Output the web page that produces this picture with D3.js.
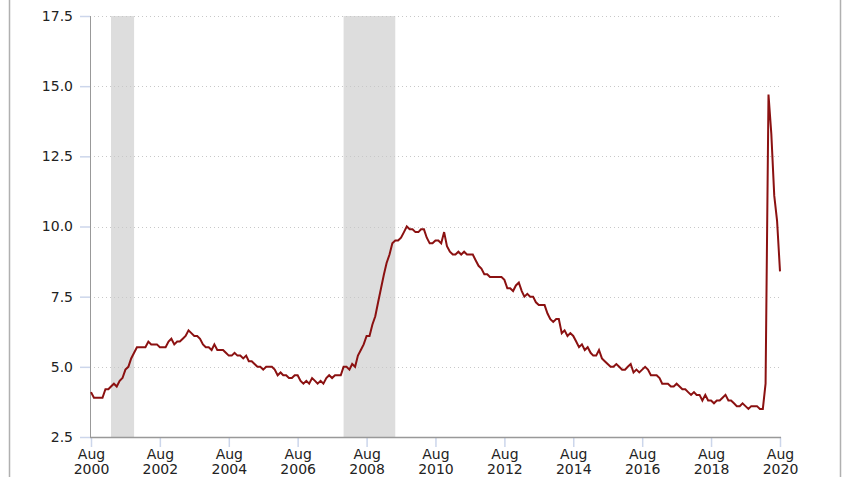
<!DOCTYPE html>
<html>
<head>
<meta charset="utf-8">
<script src="https://cdn.jsdelivr.net/npm/d3@7"></script>
<style>
html,body{margin:0;padding:0;background:#fff;}
svg{display:block;}
text{font-family:"DejaVu Sans",Verdana,sans-serif;}
</style>
</head>
<body>
<svg id="chart" width="850" height="477"></svg>
<script>
// Unemployment rate, monthly, Aug 2000 – Aug 2020
const startMonth = "2000-08";
const rates = [
  4.1,3.9,3.9,3.9,3.9,
  4.2,4.2,4.3,4.4,4.3,4.5,4.6,4.9,5.0,5.3,5.5,5.7,
  5.7,5.7,5.7,5.9,5.8,5.8,5.8,5.7,5.7,5.7,5.9,6.0,
  5.8,5.9,5.9,6.0,6.1,6.3,6.2,6.1,6.1,6.0,5.8,5.7,
  5.7,5.6,5.8,5.6,5.6,5.6,5.5,5.4,5.4,5.5,5.4,5.4,
  5.3,5.4,5.2,5.2,5.1,5.0,5.0,4.9,5.0,5.0,5.0,4.9,
  4.7,4.8,4.7,4.7,4.6,4.6,4.7,4.7,4.5,4.4,4.5,4.4,
  4.6,4.5,4.4,4.5,4.4,4.6,4.7,4.6,4.7,4.7,4.7,5.0,
  5.0,4.9,5.1,5.0,5.4,5.6,5.8,6.1,6.1,6.5,6.8,7.3,
  7.8,8.3,8.7,9.0,9.4,9.5,9.5,9.6,9.8,10.0,9.9,9.9,
  9.8,9.8,9.9,9.9,9.6,9.4,9.4,9.5,9.5,9.4,9.8,9.3,
  9.1,9.0,9.0,9.1,9.0,9.1,9.0,9.0,9.0,8.8,8.6,8.5,
  8.3,8.3,8.2,8.2,8.2,8.2,8.2,8.1,7.8,7.8,7.7,7.9,
  8.0,7.7,7.5,7.6,7.5,7.5,7.3,7.2,7.2,7.2,6.9,6.7,
  6.6,6.7,6.7,6.2,6.3,6.1,6.2,6.1,5.9,5.7,5.8,5.6,
  5.7,5.5,5.4,5.4,5.6,5.3,5.2,5.1,5.0,5.0,5.1,5.0,
  4.9,4.9,5.0,5.1,4.8,4.9,4.8,4.9,5.0,4.9,4.7,4.7,
  4.7,4.6,4.4,4.4,4.4,4.3,4.3,4.4,4.3,4.2,4.2,4.1,
  4.0,4.1,4.0,4.0,3.8,4.0,3.8,3.8,3.7,3.8,3.8,3.9,
  4.0,3.8,3.8,3.7,3.6,3.6,3.7,3.6,3.5,3.6,3.6,3.6,
  3.5,3.5,4.4,14.7,13.3,11.1,10.2,8.4
];
const recessionStarts = ["2001-03", "2007-12"];
const recessionEnds   = ["2001-11", "2009-06"];
const yTicks = [2.5, 5.0, 7.5, 10.0, 12.5, 15.0, 17.5];
const xTickMonths = ["2000-08","2002-08","2004-08","2006-08","2008-08","2010-08","2012-08","2014-08","2016-08","2018-08","2020-08"];

(function () {
const parse = d3.timeParse("%Y-%m");
const start = parse(startMonth);
const data = rates.map((v, i) => ({date: d3.timeMonth.offset(start, i), value: v}));

const svg = d3.select("#chart");
const pL = 90, pR = 780, pT = 16, pB = 437;

const x = d3.scaleTime()
  .domain([start, parse("2020-08")])
  .range([pL + 1, pR]);
const y = d3.scaleLinear().domain([2.5, 17.5]).range([pB, pT]);

// frame lines
svg.append("line").attr("x1", 9.5).attr("x2", 9.5).attr("y1", 0).attr("y2", 477)
  .attr("stroke", "#b0b0b0").attr("stroke-width", 1.5);
svg.append("line").attr("x1", 840.5).attr("x2", 840.5).attr("y1", 0).attr("y2", 477)
  .attr("stroke", "#b0b0b0").attr("stroke-width", 1.5);

// recession shading
svg.append("g").selectAll("rect")
  .data(recessionStarts.map((s, i) => ({s: parse(s), e: parse(recessionEnds[i])})))
  .join("rect")
  .attr("x", d => x(d.s))
  .attr("width", d => x(d.e) - x(d.s))
  .attr("y", pT)
  .attr("height", pB - pT)
  .attr("fill", "#dddddd");

// gridlines
svg.append("g").selectAll("line")
  .data(yTicks.filter(t => t !== 2.5))
  .join("line")
  .attr("x1", pL).attr("x2", pR)
  .attr("y1", d => Math.round(y(d)) + 0.5).attr("y2", d => Math.round(y(d)) + 0.5)
  .attr("stroke", "#c8c8c8").attr("stroke-width", 1)
  .attr("stroke-dasharray", "1,3");

// y axis
const yAxis = d3.axisLeft(y).tickValues(yTicks).tickFormat(d3.format(".1f")).tickSize(10).tickPadding(7);
const gy = svg.append("g").attr("transform", `translate(${pL},0)`).call(yAxis);
gy.select(".domain").remove();
gy.selectAll(".tick line").attr("stroke", "#ccd6eb").attr("stroke-width", 1.5);
gy.selectAll(".tick text").attr("fill", "#222").style("font-size", "14px");
svg.append("line").attr("x1", pL + 0.5).attr("x2", pL + 0.5).attr("y1", pT).attr("y2", pB)
  .attr("stroke", "#999").attr("stroke-width", 1);

// x axis
const fmt = d3.timeFormat("%b|%Y");
const xAxis = d3.axisBottom(x).tickValues(xTickMonths.map(parse)).tickSize(10).tickFormat(d => "");
const gx = svg.append("g").attr("transform", `translate(0,${pB})`).call(xAxis);
gx.select(".domain").remove();
gx.selectAll(".tick line").attr("stroke", "#ccd6eb").attr("stroke-width", 1.5);
gx.selectAll(".tick").each(function(d) {
  const parts = fmt(d).split("|");
  const t = d3.select(this).append("text").attr("fill", "#222").attr("text-anchor", "middle")
    .style("font-size", "14px");
  t.append("tspan").attr("x", 0).attr("y", 22).text(parts[0]);
  t.append("tspan").attr("x", 0).attr("y", 37).text(parts[1]);
});
svg.append("line").attr("x1", pL).attr("x2", pR + 1).attr("y1", pB + 0.5).attr("y2", pB + 0.5)
  .attr("stroke", "#999").attr("stroke-width", 1.5);

// line
svg.append("path")
  .datum(data)
  .attr("fill", "none")
  .attr("stroke", "#8b1111")
  .attr("stroke-width", 2)
  .attr("stroke-linejoin", "miter")
  .attr("d", d3.line().x(d => x(d.date)).y(d => y(d.value)));
})();
</script>
</body>
</html>
